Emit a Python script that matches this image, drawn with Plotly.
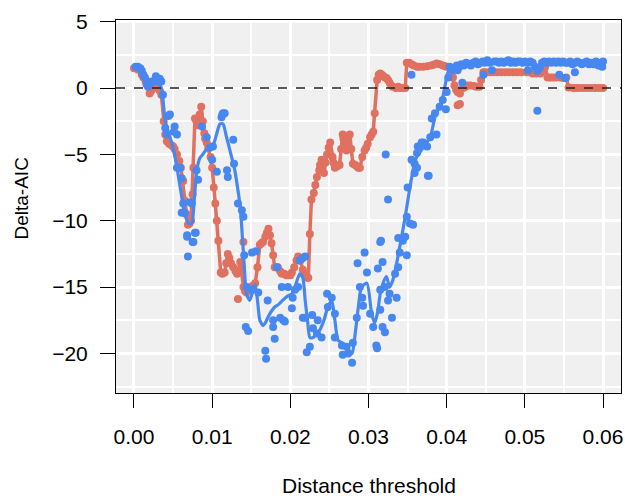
import plotly.graph_objects as go

# ---------------- data ----------------
# red series: smoothed line knots (also drawn as points)
red_x = [0.0000, 0.0005, 0.0010, 0.0015, 0.0020, 0.0025, 0.0030, 0.0035, 0.0040, 0.0045,
         0.0050, 0.0055, 0.0060, 0.0065, 0.0069, 0.0073, 0.0076, 0.0078, 0.0082, 0.0086,
         0.0088, 0.0091, 0.0095, 0.0100, 0.0104, 0.0108, 0.0111, 0.0116, 0.0120, 0.0124,
         0.0127, 0.0132, 0.0136, 0.0140, 0.0144, 0.0150, 0.0155, 0.0158, 0.0161, 0.0165,
         0.0168, 0.0172, 0.0176, 0.0180, 0.0184, 0.0189, 0.0195, 0.0200, 0.0205, 0.0210,
         0.0213, 0.0216, 0.0220, 0.0223, 0.0225, 0.0227, 0.0230, 0.0234, 0.0237, 0.0240,
         0.0243, 0.0247, 0.0251, 0.0254, 0.0257, 0.0260, 0.0263, 0.0267, 0.0270, 0.0272,
         0.0276, 0.0280, 0.0285, 0.0289, 0.0292, 0.0295, 0.0299, 0.0302, 0.0306, 0.0308,
         0.0311, 0.0315, 0.0319, 0.0323, 0.0327, 0.0331, 0.0340, 0.0347, 0.0349, 0.0355,
         0.0362, 0.0370, 0.0380, 0.0387, 0.0395, 0.0400, 0.0405, 0.0410, 0.0414, 0.0417,
         0.0421, 0.0426, 0.0435, 0.0442, 0.0447, 0.0460, 0.0480, 0.0502, 0.0510, 0.0520,
         0.0526, 0.0529, 0.0540, 0.0553, 0.0556, 0.0570, 0.0600]
red_y = [1.5, 1.4, 1.0, 0.5, -0.4, 0.1, 0.0, -0.5, -3.5, -4.2,
         -4.4, -5.0, -6.0, -8.5, -10.3, -10.0, -6.0, -2.3, -2.8, -1.4,
         -2.5, -3.8, -4.5, -6.0, -8.7, -11.5, -13.9, -13.9, -12.5, -13.2,
         -13.5, -14.0, -13.1, -15.0, -15.4, -15.0, -14.7, -13.5, -11.8, -11.6,
         -11.2, -10.6, -11.7, -13.5, -13.5, -14.0, -14.1, -14.1, -13.5, -12.7,
         -13.0, -13.7, -14.2, -14.3, -11.0, -8.4, -7.9, -6.7, -6.2, -5.4,
         -6.4, -5.0, -4.1, -5.2, -6.0, -5.9, -5.8, -3.5, -4.5, -4.7,
         -3.5, -5.7, -5.9, -6.0, -5.2, -4.7, -4.2, -3.7, -3.3, -1.9,
         0.6, 1.1, 0.9, 0.75, 0.4, 0.1, 0.0, 0.0, 1.9, 1.8,
         1.6, 1.6, 1.7, 1.85, 1.7, 1.6, 1.4, 0.2, -0.3, -0.4,
         0.0, 0.2, 0.15, 0.1, 1.2, 1.2, 1.2, 1.2, 1.1, 1.1,
         1.6, 0.8, 0.8, 0.8, 0.05, 0.0, 0.0]

# red series: additional points
red_pt_x = [0.0003, 0.0007, 0.0012, 0.0017, 0.0022, 0.0027, 0.0033, 0.0038, 0.0042, 0.0048,
            0.0052, 0.0058, 0.0063, 0.0067, 0.0071, 0.0075, 0.0080, 0.0084, 0.0090, 0.0093,
            0.0098, 0.0102, 0.0106, 0.0113, 0.0118, 0.0122, 0.0130, 0.0133, 0.0138, 0.0140,
            0.0142, 0.0147, 0.0152, 0.0163, 0.0170, 0.0174, 0.0178, 0.0182, 0.0187, 0.0192,
            0.0198, 0.0202, 0.0208, 0.0218, 0.0222, 0.0232, 0.0238, 0.0245, 0.0249, 0.0255,
            0.0265, 0.0268, 0.0274, 0.0278, 0.0283, 0.0287, 0.0297, 0.0304, 0.0313, 0.0317,
            0.0321, 0.0325, 0.0329, 0.0335, 0.0338, 0.0343, 0.0352, 0.0358, 0.0365, 0.0375,
            0.0383, 0.0391, 0.0398, 0.0408, 0.0412, 0.0414, 0.0417, 0.0424, 0.0430, 0.0438,
            0.0444, 0.0450, 0.0455, 0.0465, 0.0470, 0.0475, 0.0485, 0.0490, 0.0495, 0.0505,
            0.0515, 0.0524, 0.0532, 0.0536, 0.0545, 0.0549, 0.0562, 0.0566, 0.0575, 0.0580,
            0.0585, 0.0590, 0.0595]
red_pt_y = [1.5, 1.4, 0.8, 0.2, -0.2, 0.0, -0.2, -2.5, -4.0, -4.3,
            -4.6, -5.5, -7.0, -9.5, -10.2, -8.0, -2.5, -2.0, -3.4, -4.1,
            -5.2, -7.5, -10.0, -14.0, -13.2, -12.8, -13.8, -15.9, -13.5, -11.6,
            -15.3, -15.2, -14.9, -11.7, -10.9, -11.1, -12.6, -13.5, -13.8, -14.0,
            -14.1, -13.9, -13.0, -14.0, -14.3, -7.3, -5.8, -5.6, -4.5, -5.6,
            -4.6, -3.8, -4.0, -4.6, -5.8, -6.0, -4.5, -3.5, 1.0, 1.0,
            0.8, 0.6, 0.2, 0.0, 0.1, 0.0, 1.9, 1.7, 1.6, 1.65,
            1.75, 1.8, 1.65, 0.8, -0.1, -1.3, -1.2, 0.1, 0.2, 0.1,
            0.6, 1.2, 1.2, 1.2, 1.2, 1.2, 1.2, 1.2, 1.2, 1.2,
            1.1, 1.3, 0.8, 0.8, 0.8, 0.75, 0.0, 0.0, 0.0, 0.0,
            0.0, 0.0, 0.0]

# blue series: smoothed line knots
blue_line_x = [0.0000, 0.0010, 0.0020, 0.0030, 0.0035, 0.0040, 0.0045, 0.0050, 0.0055, 0.0060,
               0.0065, 0.0070, 0.0074, 0.0077, 0.0080, 0.0084, 0.0088, 0.0093, 0.0098, 0.0102,
               0.0106, 0.0110, 0.0114, 0.0118, 0.0124, 0.0129, 0.0133, 0.0136, 0.0140, 0.0144,
               0.0148, 0.0152, 0.0155, 0.0158, 0.0161, 0.0165, 0.0168, 0.0172, 0.0176, 0.0180,
               0.0185, 0.0190, 0.0196, 0.0202, 0.0207, 0.0212, 0.0216, 0.0219, 0.0222, 0.0225,
               0.0229, 0.0234, 0.0238, 0.0243, 0.0248, 0.0253, 0.0257, 0.0261, 0.0266, 0.0272,
               0.0279, 0.0283, 0.0287, 0.0291, 0.0298, 0.0304, 0.0308, 0.0312, 0.0315, 0.0320,
               0.0323, 0.0327, 0.0331, 0.0336, 0.0343, 0.0347, 0.0353, 0.0360, 0.0366, 0.0372,
               0.0379, 0.0385, 0.0390, 0.0395, 0.0400, 0.0403, 0.0410, 0.0420, 0.0434, 0.0450,
               0.0464, 0.0480, 0.0500, 0.0510, 0.0515, 0.0520, 0.0527, 0.0540, 0.0560, 0.0580,
               0.0600]
blue_line_y = [1.5, 1.2, 0.3, 0.4, 0.0, -2.5, -3.5, -4.5, -6.0, -7.8,
               -9.5, -10.2, -10.2, -8.5, -6.4, -5.3, -5.0, -4.6, -4.5, -4.2,
               -3.4, -2.7, -2.7, -3.6, -5.0, -6.2, -7.7, -9.0, -12.4, -15.5,
               -16.0, -15.3, -14.8, -16.0, -17.5, -17.9, -17.7, -17.2, -16.8, -16.5,
               -16.3, -16.0, -15.7, -15.5, -14.8, -14.0, -14.3, -16.0, -17.5, -18.8,
               -18.8, -18.5, -18.2, -17.5, -16.5, -16.0, -17.5, -19.0, -19.2, -19.5,
               -20.0, -18.5, -16.5, -15.0, -14.7, -17.0, -17.7, -16.8, -15.5, -14.5,
               -14.2, -15.0, -14.5, -13.2, -11.0, -9.7, -7.5, -5.4, -4.8, -4.3,
               -3.7, -2.2, -1.5, -0.7, 0.8, 1.35, 1.5, 1.6, 1.7, 1.8,
               1.9, 1.95, 1.95, 1.9, 1.3, 1.5, 1.85, 1.95, 1.95, 1.9,
               1.9]

# blue series: individual points
blue_pt_x = [0.0002, 0.0005, 0.0008, 0.0010, 0.0012, 0.0014, 0.0016, 0.0018, 0.0020, 0.0022,
             0.0025, 0.0028, 0.0030, 0.0032, 0.0033, 0.0035, 0.0037, 0.0040, 0.0042, 0.0044,
             0.0046, 0.0051, 0.0052, 0.0055, 0.0055, 0.0059, 0.0061, 0.0061, 0.0063, 0.0065,
             0.0068, 0.0068, 0.0069, 0.0072, 0.0074, 0.0075, 0.0076, 0.0078, 0.0079, 0.0080,
             0.0082, 0.0087, 0.0093, 0.0097, 0.0100, 0.0101, 0.0106, 0.0112, 0.0113, 0.0114,
             0.0116, 0.0119, 0.0120, 0.0127, 0.0128, 0.0133, 0.0138, 0.0140, 0.0141, 0.0143,
             0.0144, 0.0146, 0.0151, 0.0151, 0.0156, 0.0159, 0.0168, 0.0169, 0.0171, 0.0178,
             0.0178, 0.0180, 0.0183, 0.0187, 0.0189, 0.0191, 0.0193, 0.0197, 0.0202, 0.0203,
             0.0206, 0.0210, 0.0212, 0.0216, 0.0216, 0.0219, 0.0219, 0.0221, 0.0225, 0.0228,
             0.0229, 0.0234, 0.0235, 0.0240, 0.0247, 0.0248, 0.0253, 0.0257, 0.0257, 0.0266,
             0.0267, 0.0272, 0.0274, 0.0279, 0.0280, 0.0285, 0.0286, 0.0289, 0.0292, 0.0293,
             0.0295, 0.0298, 0.0302, 0.0306, 0.0310, 0.0311, 0.0312, 0.0315, 0.0315, 0.0315,
             0.0316, 0.0318, 0.0318, 0.0321, 0.0321, 0.0322, 0.0325, 0.0325, 0.0327, 0.0330,
             0.0334, 0.0336, 0.0338, 0.0338, 0.0340, 0.0344, 0.0347, 0.0349, 0.0349, 0.0350,
             0.0353, 0.0355, 0.0355, 0.0357, 0.0359, 0.0359, 0.0362, 0.0362, 0.0363, 0.0366,
             0.0368, 0.0370, 0.0375, 0.0376, 0.0377, 0.0379, 0.0381, 0.0385, 0.0387, 0.0391,
             0.0395, 0.0399, 0.0400, 0.0402, 0.0404, 0.0408, 0.0410, 0.0413, 0.0414, 0.0416,
             0.0417, 0.0419, 0.0420, 0.0422, 0.0425, 0.0428, 0.0431, 0.0434, 0.0437, 0.0440,
             0.0443, 0.0446, 0.0447, 0.0449, 0.0452, 0.0455, 0.0458, 0.0461, 0.0464, 0.0467,
             0.0470, 0.0473, 0.0476, 0.0479, 0.0482, 0.0485, 0.0488, 0.0491, 0.0494, 0.0497,
             0.0500, 0.0503, 0.0504, 0.0507, 0.0510, 0.0513, 0.0516, 0.0516, 0.0519, 0.0522,
             0.0525, 0.0528, 0.0531, 0.0534, 0.0537, 0.0540, 0.0543, 0.0544, 0.0546, 0.0549,
             0.0552, 0.0552, 0.0555, 0.0558, 0.0561, 0.0564, 0.0564, 0.0567, 0.0570, 0.0573,
             0.0576, 0.0579, 0.0582, 0.0585, 0.0588, 0.0591, 0.0594, 0.0597, 0.0599, 0.0600]
blue_pt_y = [1.6, 1.6, 1.5, 1.3, 1.0, 0.8, 0.3, 0.1, 0.3, 0.5,
             0.5, 0.9, 0.6, 0.5, 0.7, 0.5, -0.5, -3.0, -3.5, -2.1,
             -2.0, -3.3, -2.9, -6.0, -3.5, -6.0, -6.8, -9.4, -8.7, -9.4,
             -11.1, -11.2, -12.7, -8.6, -8.7, -11.6, -11.6, -10.9, -10.9, -6.2,
             -6.9, -2.9, -3.7, -4.5, -5.4, -4.4, -6.3, -2.2, -2.0, -1.9,
             -1.9, -6.2, -6.7, -3.9, -5.7, -8.7, -9.2, -9.7, -12.6, -18.0,
             -15.0, -18.3, -15.2, -12.4, -12.3, -15.4, -19.8, -20.4, -16.0, -17.5,
             -18.0, -18.9, -13.5, -17.3, -15.0, -17.5, -17.6, -15.0, -16.6, -15.8,
             -15.2, -15.0, -13.0, -12.8, -17.3, -12.7, -17.3, -19.9, -19.5, -17.1,
             -18.1, -18.5, -17.5, -18.8, -15.5, -16.5, -15.8, -17.0, -18.8, -19.4,
             -20.1, -19.5, -20.0, -20.7, -19.2, -17.3, -13.2, -15.0, -15.8, -16.4,
             -12.4, -13.9, -17.0, -18.0, -19.4, -19.6, -13.6, -16.7, -15.2, -11.6,
             -11.5, -13.1, -18.0, -15.0, -18.4, -5.0, -16.0, -8.4, -15.5, -17.3,
             -14.0, -15.8, -13.5, -11.3, -12.4, -11.5, -11.2, -12.6, -9.7, -7.5,
             -10.2, -5.4, 1.0, -10.3, -5.7, -6.4, -4.9, -6.0, -4.4, -4.4,
             -4.1, -4.1, -4.4, -6.6, -6.6, -3.7, -2.3, -1.9, -3.5, -1.4,
             -0.9, -1.6, -0.3, 0.8, 1.6, 1.35, 1.5, 1.7, 1.35, 1.6,
             1.7, 1.8, 0.4, 1.7, 1.9, 1.8, 1.7, 1.9, 2.0, 1.8,
             1.9, 2.0, 1.0, 1.9, 2.1, 1.9, 1.35, 2.0, 2.0, 1.9,
             2.0, 1.9, 2.0, 2.1, 1.9, 2.0, 1.9, 2.0, 2.0, 1.9,
             2.0, 1.9, 1.35, 2.0, 1.9, 1.6, 1.3, -1.7, 1.5, 1.9,
             2.0, 1.9, 2.0, 1.9, 2.0, 1.9, 2.0, 1.0, 1.9, 2.0,
             1.9, 0.75, 1.9, 2.0, 1.8, 1.9, 1.2, 2.0, 1.9, 1.8,
             1.9, 2.0, 1.8, 1.9, 1.8, 2.0, 1.7, 1.9, 1.6, 2.0]

x_ticks = [0.00, 0.01, 0.02, 0.03, 0.04, 0.05, 0.06]
x_tick_labels = ["0.00", "0.01", "0.02", "0.03", "0.04", "0.05", "0.06"]
y_ticks = [-20, -15, -10, -5, 0, 5]

RED = "#E0705F"
BLUE = "#4687F0"
FONT = "Liberation Sans, Arial, sans-serif"

fig = go.Figure()

fig.add_trace(go.Scatter(x=red_pt_x, y=red_pt_y, mode="markers",
                         marker=dict(color=RED, size=8), hoverinfo="skip", showlegend=False))
fig.add_trace(go.Scatter(x=red_x, y=red_y, mode="lines+markers",
                         line=dict(color=RED, width=3.5),
                         marker=dict(color=RED, size=8), showlegend=False))
fig.add_trace(go.Scatter(x=blue_pt_x, y=blue_pt_y, mode="markers",
                         marker=dict(color=BLUE, size=8), showlegend=False))
fig.add_trace(go.Scatter(x=blue_line_x, y=blue_line_y, mode="lines",
                         line=dict(color=BLUE, width=3.2, shape="spline", smoothing=0.6),
                         showlegend=False))

fig.add_shape(type="line", xref="paper", yref="y", x0=0, x1=1, y0=0, y1=0,
              line=dict(color="#222222", width=1.5, dash="dash"))

fig.update_layout(
    width=625, height=496,
    margin=dict(l=116, r=4, t=20, b=103, autoexpand=False),
    paper_bgcolor="white",
    plot_bgcolor="#F0F0F0",
    font=dict(family=FONT, size=21, color="black"),
    xaxis=dict(range=[-0.0023, 0.0623], tickvals=x_ticks, ticktext=x_tick_labels,
               automargin=False,
               showgrid=True, gridcolor="white", gridwidth=2.5, zeroline=False,
               minor=dict(dtick=0.005, tick0=0, showgrid=True, gridcolor="white", gridwidth=1.5),
               showline=True, mirror=True, linecolor="black", linewidth=1,
               ticks="outside", ticklen=14, tickcolor="black", tickwidth=1,
               ticklabelstandoff=11,
               tickfont=dict(family=FONT, size=21)),
    yaxis=dict(range=[-22.98, 5.13], tickvals=y_ticks,
               automargin=False,
               showgrid=True, gridcolor="white", gridwidth=2.5, zeroline=False,
               minor=dict(dtick=2.5, tick0=0, showgrid=True, gridcolor="white", gridwidth=1.5),
               showline=True, mirror=True, linecolor="black", linewidth=1,
               ticks="outside", ticklen=15, tickcolor="black", tickwidth=1,
               ticklabelstandoff=8,
               tickfont=dict(family=FONT, size=21)),
    annotations=[
        dict(text="Distance threshold", xref="paper", yref="paper", x=0.5, y=0,
             yshift=-92, showarrow=False, yanchor="middle", xanchor="center",
             font=dict(family=FONT, size=21)),
        dict(text="Delta-AIC", xref="paper", yref="paper", x=0, y=0.5,
             xshift=-95, yshift=8, showarrow=False, textangle=-90,
             xanchor="center", yanchor="middle",
             font=dict(family=FONT, size=19)),
    ],
)

fig.write_html("out.html", config={"displayModeBar": False},
               post_script="document.body.style.margin='0';")
